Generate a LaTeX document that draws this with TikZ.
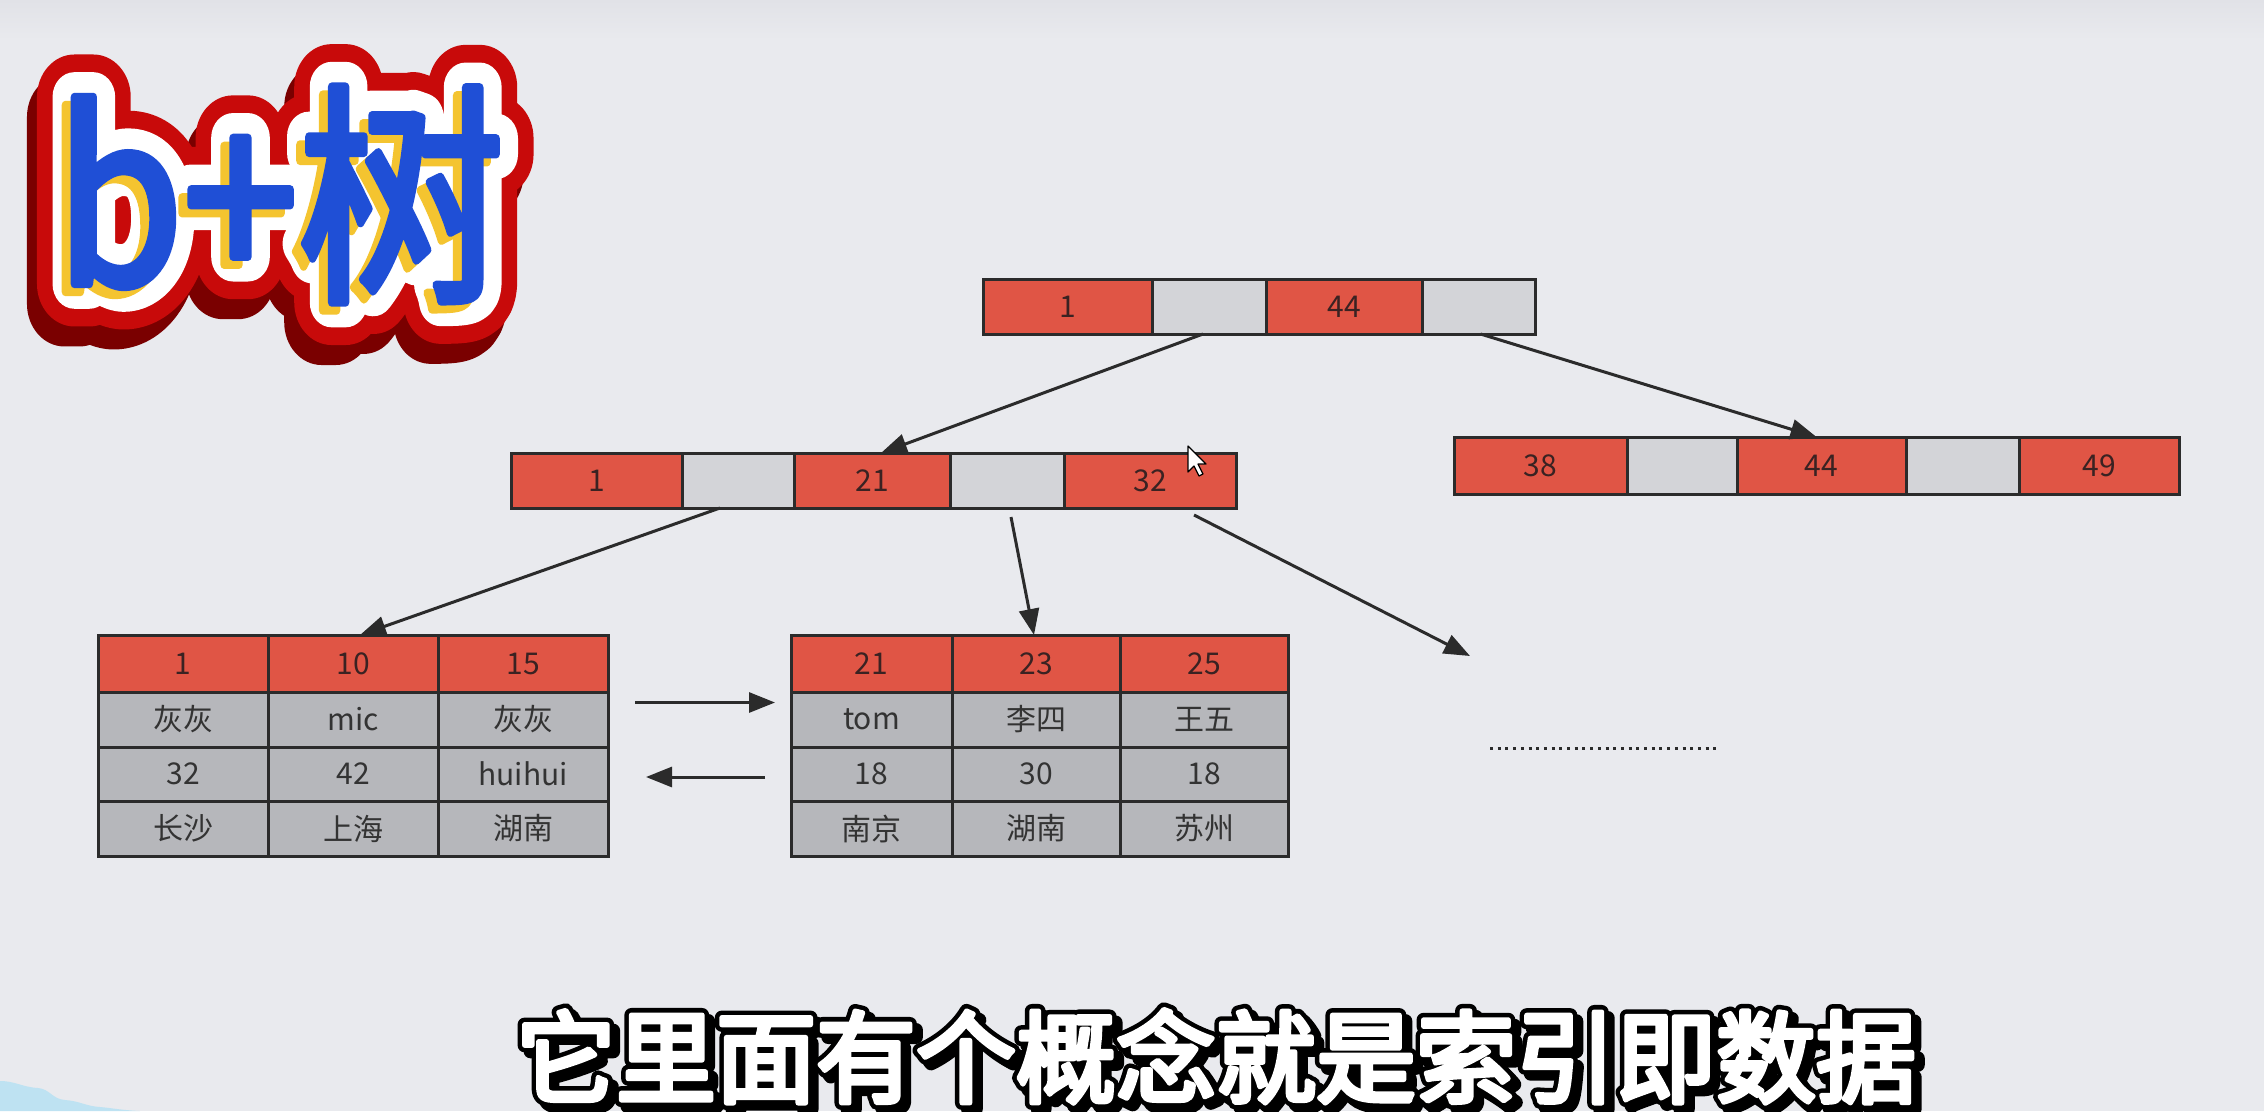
\documentclass[tikz,border=0pt]{standalone}
\usepackage{fontspec}
\newfontfamily\cjk{Noto Sans CJK SC}
\newfontfamily\ttlR[FakeBold=36]{Noto Sans CJK SC}
\newfontfamily\ttlW[FakeBold=21]{Noto Sans CJK SC}
\newfontfamily\ttlB[FakeBold=3.5]{Noto Sans CJK SC}
\newfontfamily\subK[FakeBold=14]{Noto Sans CJK SC}
\newfontfamily\subW[FakeBold=5]{Noto Sans CJK SC}
\usetikzlibrary{arrows.meta,calc}
\definecolor{bg}{HTML}{E9EAEE}
\definecolor{bgtop}{HTML}{E1E2E7}
\definecolor{cellred}{HTML}{E05545}
\definecolor{cellgray}{HTML}{D3D4D8}
\definecolor{tblgray}{HTML}{B6B7BB}
\definecolor{bordc}{HTML}{2B2B2B}
\definecolor{txtc}{HTML}{333333}
\definecolor{redtxt}{HTML}{3A2222}
\definecolor{ttlblue}{HTML}{1F4FD6}
\definecolor{ttlyellow}{HTML}{F4C430}
\definecolor{ttlred}{HTML}{C80A0A}
\definecolor{ttldark}{HTML}{7A0000}
\definecolor{lightblue}{HTML}{BEE2F2}
\newcommand\mycell[7]{\node[#1, minimum width={#4pt-#3pt}, minimum height={#6pt-#5pt}] (#2) at ({(#3+#4)/2},{(#5+#6)/2}) {#7};}
\newcommand\ttltext{\scalebox{0.88}[1]{b+树}}
\newcommand\subtext{它里面有个概念就是索引即数据}
\tikzset{
  cell/.style={draw=bordc, line width=3pt, inner sep=0pt, outer sep=0pt, font=\cjk\fontsize{30}{30}\selectfont, text=txtc},
  redc/.style={cell, fill=cellred, text=redtxt},
  grayc/.style={cell, fill=cellgray},
  tblc/.style={cell, fill=tblgray},
  arr/.style={draw=bordc, line width=3pt, -{Triangle[length=26pt,width=20pt]}},
  dotline/.style={draw=bordc, line width=3pt, dash pattern=on 3pt off 4.7pt},
  ttl/.style={anchor=base, inner sep=0pt, line join=round},
  sub/.style={anchor=base, inner sep=0pt, line join=round}
}
\begin{document}
\begin{tikzpicture}[x=1pt,y=-1pt]
\useasboundingbox (0,0) rectangle (2264,1111);
\fill[bg] (0,0) rectangle (2264,1111);
\shade[top color=bgtop, bottom color=bg] (0,0) rectangle (2264,40);
\fill[lightblue] (0,1111) -- (0,1081) .. controls (15,1081) and (22,1087) .. (38,1088) .. controls (50,1089) and (52,1099) .. (65,1100) .. controls (80,1101) and (85,1106) .. (100,1107) .. controls (112,1108) and (120,1110) .. (140,1111) -- cycle;

% title b+树
\node[ttl, font=\ttlR\fontsize{235}{235}\selectfont, text=ttldark] (tdark) at (270,304) {\ttltext};
\node[ttl, font=\ttlR\fontsize{235}{235}\selectfont, text=ttlred] (tred) at (280,284) {\ttltext};
\node[ttl, font=\ttlW\fontsize{235}{235}\selectfont, text=white] (twhite) at (280,284) {\ttltext};
\node[ttl, font=\ttlB\fontsize{235}{235}\selectfont, text=ttlyellow] (tyellow) at (271,292) {\ttltext};
\node[ttl, font=\ttlB\fontsize{235}{235}\selectfont, text=ttlblue] (title) at (280,284) {\ttltext};

% root node
\mycell{redc}{r1}{983}{1152}{279}{334}{1}
\mycell{grayc}{r2}{1152}{1266}{279}{334}{}
\mycell{redc}{r3}{1266}{1422}{279}{334}{44}
\mycell{grayc}{r4}{1422}{1535}{279}{334}{}

% right node
\mycell{redc}{g1}{1454}{1627}{437}{494}{38}
\mycell{grayc}{g2}{1627}{1737}{437}{494}{}
\mycell{redc}{g3}{1737}{1906}{437}{494}{44}
\mycell{grayc}{g4}{1906}{2019}{437}{494}{}
\mycell{redc}{g5}{2019}{2179}{437}{494}{49}

% middle node
\mycell{redc}{m1}{511}{682}{453}{508}{1}
\mycell{grayc}{m2}{682}{794}{453}{508}{}
\mycell{redc}{m3}{794}{950}{453}{508}{21}
\mycell{grayc}{m4}{950}{1064}{453}{508}{}
\mycell{redc}{m5}{1064}{1236}{453}{508}{32}

% left table
\mycell{redc}{L11}{98}{268}{635}{692}{1}
\mycell{redc}{L12}{268}{438}{635}{692}{10}
\mycell{redc}{L13}{438}{608}{635}{692}{15}
\mycell{tblc}{L21}{98}{268}{692}{747}{灰灰}
\mycell{tblc}{L22}{268}{438}{692}{747}{mic}
\mycell{tblc}{L23}{438}{608}{692}{747}{灰灰}
\mycell{tblc}{L31}{98}{268}{747}{801}{32}
\mycell{tblc}{L32}{268}{438}{747}{801}{42}
\mycell{tblc}{L33}{438}{608}{747}{801}{huihui}
\mycell{tblc}{L41}{98}{268}{801}{856}{长沙}
\mycell{tblc}{L42}{268}{438}{801}{856}{上海}
\mycell{tblc}{L43}{438}{608}{801}{856}{湖南}

% right table
\mycell{redc}{R11}{791}{952}{635}{692}{21}
\mycell{redc}{R12}{952}{1120}{635}{692}{23}
\mycell{redc}{R13}{1120}{1288}{635}{692}{25}
\mycell{tblc}{R21}{791}{952}{692}{747}{tom}
\mycell{tblc}{R22}{952}{1120}{692}{747}{李四}
\mycell{tblc}{R23}{1120}{1288}{692}{747}{王五}
\mycell{tblc}{R31}{791}{952}{747}{801}{18}
\mycell{tblc}{R32}{952}{1120}{747}{801}{30}
\mycell{tblc}{R33}{1120}{1288}{747}{801}{18}
\mycell{tblc}{R41}{791}{952}{801}{856}{南京}
\mycell{tblc}{R42}{952}{1120}{801}{856}{湖南}
\mycell{tblc}{R43}{1120}{1288}{801}{856}{苏州}

% connectors
\draw[arr] ([xshift=-6pt]r2.south) -- ([xshift=9pt]m3.north);
\draw[arr] ([xshift=2pt]r4.south) -- ([xshift=-5pt]g3.north);
\draw[arr] ([xshift=-18pt]m2.south) -- ([xshift=7pt]L12.north);
\draw[arr] ([shift={(4pt,-9pt)}]m4.south) -- ([xshift=-2pt]R12.north);
\coordinate (dend) at (1470,656);
\draw[arr] ([shift={(44pt,-7pt)}]m5.south) -- (dend);
\draw[arr] ([shift={(27pt,17pt)}]L23.east) -- ([shift={(-16pt,17pt)}]R21.west);
\draw[arr] ([shift={(-26pt,-3pt)}]R31.west) -- ([shift={(38pt,-3pt)}]L33.east);

% dotted line
\coordinate (d1) at (1490,748);
\coordinate (d2) at (1720,748);
\draw[dotline] (d1) -- (d2);

% mouse cursor
\filldraw[fill=white, draw=black, line width=1.2pt, line join=round] (1188,446) -- ++(0,26) -- ++(6,-6) -- ++(5,10) -- ++(4,-2) -- ++(-5,-10) -- ++(8,0) -- cycle;

% subtitle
\node[sub, font=\subK\fontsize{100}{100}\selectfont, text=black] (subshadow) at (1222,1101) {\subtext};
\node[sub, font=\subK\fontsize{100}{100}\selectfont, text=black] (suboutline) at (1216,1095) {\subtext};
\node[sub, font=\subW\fontsize{100}{100}\selectfont, text=white] (subtitle) at (1216,1095) {\subtext};
\end{tikzpicture}
\end{document}
